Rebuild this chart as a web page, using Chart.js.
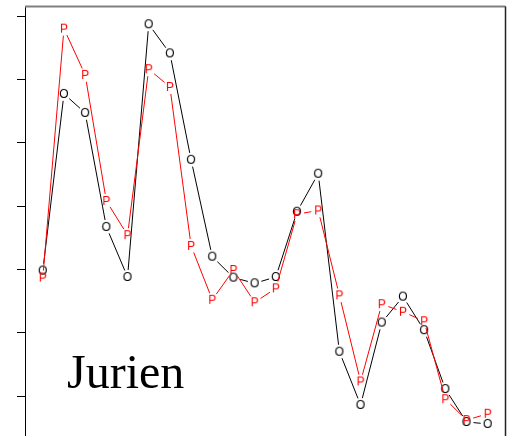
<!DOCTYPE html>
<html>
<head>
<meta charset="utf-8">
<script src="https://cdn.jsdelivr.net/npm/chart.js@4"></script>
<style>
  html, body { margin: 0; padding: 0; background: #fff; overflow: hidden; }
  canvas { display: block; }
</style>
</head>
<body>
<canvas id="c" width="508" height="470"></canvas>
<script>
// Site index along the coast (x) and the observed / predicted values (y)
const sites = [1, 2, 3, 4, 5, 6, 7, 8, 9, 10, 11, 12, 13, 14, 15, 16, 17, 18, 19, 20, 21, 22];
const observed = [1.98, 4.77, 4.47, 2.67, 1.88, 5.87, 5.41, 3.73, 2.20, 1.87, 1.78,
                  1.88, 2.91, 3.51, 0.70, -0.14, 1.16, 1.57, 1.04, 0.11, -0.41, -0.44];
const predicted = [1.87, 5.80, 5.07, 3.08, 2.54, 5.16, 4.88, 2.37, 1.52, 1.99, 1.48,
                   1.70, 2.87, 2.93, 1.59, 0.23, 1.45, 1.33, 1.18, -0.05, -0.38, -0.28];
const yTicks = [0, 1, 2, 3, 4, 5, 6];
const panelLabel = 'Jurien';

// Letter markers: "O" for observed, "P" for predicted
function glyph(ch, color) {
  const c = document.createElement('canvas');
  c.width = 14; c.height = 14;
  const g = c.getContext('2d');
  g.font = '12px "Liberation Sans", Arial, sans-serif';
  g.fillStyle = color;
  g.textAlign = 'center';
  g.textBaseline = 'alphabetic';
  g.fillText(ch, 7, 11.3);
  return c;
}

// Connect consecutive points, leaving a gap around each letter marker
const gap = 7;
const gappedLines = {
  id: 'gappedLines',
  beforeDatasetDraw(chart, args) {
    const ds = chart.data.datasets[args.index];
    const pts = args.meta.data;
    const ctx = chart.ctx;
    ctx.save();
    ctx.strokeStyle = ds.borderColor;
    ctx.lineWidth = 1;
    for (let i = 1; i < pts.length; i++) {
      const a = pts[i - 1], b = pts[i];
      const dx = b.x - a.x, dy = b.y - a.y;
      const d = Math.hypot(dx, dy);
      if (d <= 2 * gap) continue;
      const ux = dx / d, uy = dy / d;
      ctx.beginPath();
      ctx.moveTo(a.x + ux * gap, a.y + uy * gap);
      ctx.lineTo(b.x - ux * gap, b.y - uy * gap);
      ctx.stroke();
    }
    ctx.restore();
  }
};

// Panel frame (top and right edges) and the site name
const frame = {
  id: 'frame',
  afterDraw(chart) {
    const { ctx, chartArea: a } = chart;
    ctx.save();
    ctx.strokeStyle = '#808080';
    ctx.lineWidth = 2;
    ctx.beginPath();
    ctx.moveTo(a.left, a.top);
    ctx.lineTo(a.right, a.top);
    ctx.stroke();
    ctx.strokeStyle = '#222';
    ctx.lineWidth = 1.5;
    ctx.beginPath();
    ctx.moveTo(a.right, a.top);
    ctx.lineTo(a.right, a.bottom);
    ctx.stroke();
    ctx.fillStyle = '#000';
    ctx.font = '48px "Liberation Serif", "Times New Roman", serif';
    ctx.textBaseline = 'alphabetic';
    ctx.fillText(panelLabel, a.left + 42, 388);
    ctx.restore();
  }
};

const toPoints = vals => sites.map((s, i) => ({ x: s, y: vals[i] }));

new Chart(document.getElementById('c'), {
  type: 'line',
  data: {
    datasets: [
      {
        label: 'P',
        data: toPoints(predicted),
        borderColor: '#ff0000',
        showLine: false,
        pointStyle: glyph('P', '#ff0000'),
        pointRadius: 3
      },
      {
        label: 'O',
        data: toPoints(observed),
        borderColor: '#000000',
        showLine: false,
        pointStyle: glyph('O', '#000000'),
        pointRadius: 3
      }
    ]
  },
  options: {
    responsive: false,
    animation: false,
    devicePixelRatio: 1,
    events: [],
    layout: { autoPadding: false, padding: { left: 17, right: 2.5, top: 6.5, bottom: 4.3 } },
    plugins: { legend: { display: false }, tooltip: { enabled: false } },
    scales: {
      x: { type: 'linear', min: 0.16, max: 22.84, display: false },
      y: {
        type: 'linear',
        min: -1.1,
        max: 6.15,
        afterBuildTicks: s => { s.ticks = yTicks.map(v => ({ value: v })); },
        ticks: { display: false },
        grid: { drawOnChartArea: false, drawTicks: true, tickLength: 8, color: '#000', lineWidth: 1 },
        border: { display: true, color: '#000', width: 1 }
      }
    }
  },
  plugins: [gappedLines, frame]
});
</script>
</body>
</html>
